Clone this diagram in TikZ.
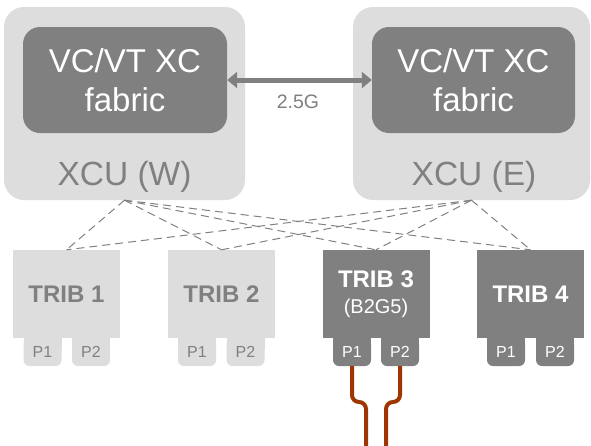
\documentclass[tikz,border=0pt]{standalone}
\usepackage{fontspec}
\setmainfont{Liberation Sans}
\usetikzlibrary{arrows.meta,positioning}
\definecolor{boxlight}{HTML}{DDDDDD}
\definecolor{boxdark}{HTML}{808080}
\definecolor{cablecol}{RGB}{158,54,4}
\tikzset{
  unit/.style={fill=boxlight, rounded corners=20pt, inner sep=0pt},
  fabricbox/.style={fill=boxdark, rounded corners=17pt, text=white, align=center,
    inner sep=0pt, font=\fontsize{33}{39}\selectfont},
  unitlabel/.style={text=boxdark, font=\fontsize{33.5}{39}\selectfont},
  linklabel/.style={text=boxdark, font=\fontsize{19.5}{22}\selectfont},
  triblight/.style={fill=boxlight, text=boxdark, inner sep=0pt, align=center,
    minimum width=107pt, minimum height=88pt, font=\bfseries\fontsize{24}{28}\selectfont},
  tribdark/.style={triblight, fill=boxdark, text=white},
  portnode/.style={rounded corners=6pt, inner sep=0pt, minimum width=38pt,
    minimum height=28pt, font=\fontsize{16}{18}\selectfont},
  meshline/.style={dash pattern=on 8pt off 5pt, draw=boxdark, line width=1pt},
  biarrow/.style={draw=boxdark, line width=5pt,
    {Triangle[length=10pt,width=16pt]}-{Triangle[length=10pt,width=16pt]}},
  cable/.style={draw=cablecol, line width=4pt, rounded corners=7pt}
}
\begin{document}
\begin{tikzpicture}[x=1pt,y=-1pt]
\useasboundingbox (0,0) rectangle (591,445);

% cross-connect units
\node[unit, minimum width=241pt, minimum height=193pt] (xcuW) at (124.5,103.5) {};
\node[unit, minimum width=237pt, minimum height=193pt] (xcuE) at (471.5,103.5) {};
\node[fabricbox, minimum width=204pt, minimum height=106pt] (fabW) at (125,80) {VC/VT XC\\fabric};
\node[fabricbox, minimum width=203pt, minimum height=106pt] (fabE) at (473.5,80) {VC/VT XC\\fabric};
\node[unitlabel] (lblW) at (124.5,177) {XCU (W)};
\node[unitlabel] (lblE) at (474,177) {XCU (E)};

% inter-unit link
\draw[biarrow] (fabW.east) -- (fabE.west);
\node[linklabel] (rate) at (298,102) {2.5G};

% tributary cards
\node[triblight] (trib1) at (66.5,294) {TRIB 1};
\node[triblight] (trib2) at (221.5,294) {TRIB 2};
\node[tribdark]  (trib3) at (376,294) {TRIB 3\\[-2pt]{\mdseries\fontsize{20}{22}\selectfont(B2G5)}};
\node[tribdark]  (trib4) at (530.5,294) {TRIB 4};

% mesh between units and cards
\foreach \u in {xcuW,xcuE}
  \foreach \t in {trib1,trib2,trib3,trib4}
    \draw[meshline] (\u.south) -- (\t.north);

% ports: square top, rounded bottom
\foreach \n/\x/\c/\tc/\l in {t1p1/42.5/boxlight/boxdark/P1, t1p2/91/boxlight/boxdark/P2,
                             t2p1/197/boxlight/boxdark/P1, t2p2/245.5/boxlight/boxdark/P2,
                             t3p1/352/boxdark/white/P1, t3p2/400/boxdark/white/P2,
                             t4p1/506/boxdark/white/P1, t4p2/555/boxdark/white/P2} {
  \fill[\c] (\x-19,338) rectangle (\x+19,350);
  \node[portnode, fill=\c, text=\tc] (\n) at (\x,352) {\l};
}

% fibre pair leaving TRIB 3
\coordinate (c1end) at (366,446);
\coordinate (c2end) at (386,446);
\draw[cable] (t3p1.south) -- (352,402) -- (366,402) -- (c1end);
\draw[cable] (t3p2.south) -- (400,402) -- (386,402) -- (c2end);
\end{tikzpicture}
\end{document}
